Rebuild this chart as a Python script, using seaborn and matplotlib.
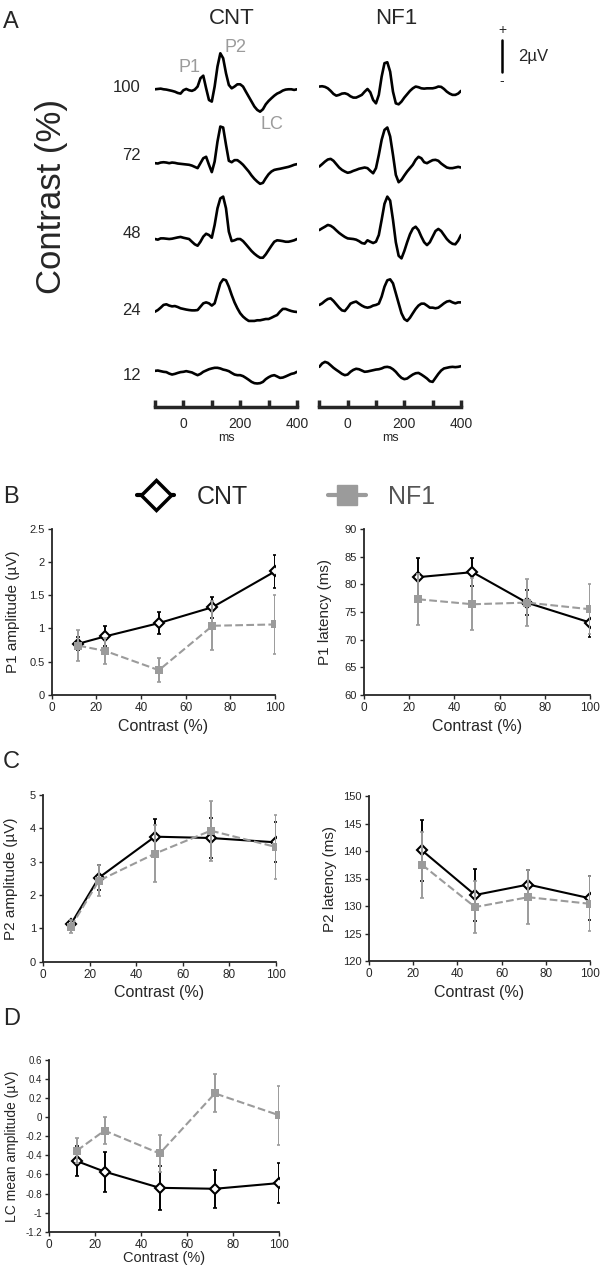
import numpy as np
import matplotlib
matplotlib.use("Agg")
import matplotlib.pyplot as plt
from matplotlib.lines import Line2D
from matplotlib.ticker import FuncFormatter
import seaborn as sns

sns.set_style("ticks")
plt.rcParams['font.family'] = ['Liberation Sans', 'DejaVu Sans']
plt.rcParams['axes.unicode_minus'] = False

# ---- panel A: grand average waveforms (uV), one sample every 10 ms
t_ms = np.arange(-100, 401, 10)
row_labels = ['100', '72', '48', '24', '12']

cnt_100 = [0.00, 0.02, 0.04, 0.00, -0.02, -0.06, -0.10, -0.15, -0.23, -0.27,
           -0.06, 0.02, -0.06, -0.10, -0.02, 0.17, 0.69, 0.85, 0.06, -0.67,
           -0.77, 0.17, 1.42, 2.25, 1.94, 1.00, 0.27, 0.06, 0.17, 0.31,
           0.31, 0.17, -0.15, -0.46, -0.77, -1.08, -1.29, -1.40, -1.25, -0.94,
           -0.73, -0.56, -0.40, -0.27, -0.19, -0.08, -0.02, 0.00, 0.00, -0.04,
           0.00]
cnt_72 = [0.00, -0.02, 0.04, 0.06, 0.04, 0.00, 0.04, 0.02, -0.02, -0.04,
          -0.06, -0.08, -0.10, -0.15, -0.23, -0.31, 0.00, 0.31, 0.40, -0.10,
          -0.56, 0.10, 1.35, 2.29, 2.23, 1.15, 0.15, 0.06, 0.19, 0.19,
          0.06, -0.10, -0.31, -0.52, -0.77, -0.98, -1.15, -1.29, -1.23, -0.94,
          -0.69, -0.52, -0.42, -0.38, -0.35, -0.31, -0.27, -0.23, -0.17, -0.10,
          -0.06]
cnt_48 = [0.00, -0.04, 0.04, 0.04, 0.02, 0.00, 0.02, 0.06, 0.10, 0.13,
          0.08, 0.04, 0.00, -0.17, -0.33, -0.42, -0.17, 0.15, 0.33, 0.25,
          0.08, 0.88, 1.92, 2.54, 2.65, 1.92, 0.46, -0.13, -0.08, 0.00,
          0.00, -0.13, -0.33, -0.54, -0.75, -0.92, -1.06, -1.17, -1.17, -0.96,
          -0.69, -0.42, -0.17, -0.08, -0.10, -0.13, -0.17, -0.17, -0.13, -0.08,
          0.00]
cnt_24 = [0.00, 0.10, 0.25, 0.42, 0.46, 0.38, 0.33, 0.35, 0.29, 0.21,
          0.17, 0.13, 0.10, 0.08, 0.08, 0.10, 0.31, 0.52, 0.58, 0.52,
          0.38, 0.52, 1.15, 1.77, 2.02, 1.96, 1.56, 1.04, 0.58, 0.21,
          -0.10, -0.31, -0.46, -0.58, -0.58, -0.58, -0.54, -0.54, -0.50, -0.46,
          -0.46, -0.38, -0.29, -0.21, 0.00, 0.17, 0.17, 0.10, 0.04, 0.00,
          -0.02]
cnt_12 = [0.00, 0.02, -0.02, -0.06, -0.08, -0.17, -0.23, -0.19, -0.13, -0.08,
          -0.06, -0.02, -0.06, -0.10, -0.19, -0.27, -0.19, -0.06, 0.02, 0.10,
          0.15, 0.19, 0.19, 0.15, 0.08, 0.04, -0.02, -0.13, -0.23, -0.27,
          -0.27, -0.33, -0.44, -0.56, -0.69, -0.77, -0.79, -0.77, -0.69, -0.52,
          -0.40, -0.31, -0.27, -0.35, -0.44, -0.42, -0.35, -0.27, -0.19, -0.15,
          -0.06]

nf1_100 = [0.17, 0.19, 0.15, 0.06, -0.10, -0.29, -0.40, -0.35, -0.27, -0.25,
           -0.31, -0.44, -0.52, -0.52, -0.44, -0.35, -0.15, 0.02, -0.19, -0.67,
           -0.88, -0.35, 0.79, 1.63, 1.69, 1.10, -0.15, -0.88, -0.94, -0.77,
           -0.52, -0.31, -0.10, 0.06, 0.17, 0.13, 0.06, 0.04, 0.06, 0.06,
           0.06, 0.10, 0.17, 0.15, 0.02, -0.15, -0.27, -0.35, -0.35, -0.27,
           -0.10]
nf1_72 = [-0.21, -0.06, 0.10, 0.23, 0.27, 0.15, -0.06, -0.27, -0.42, -0.52,
          -0.60, -0.56, -0.48, -0.42, -0.35, -0.31, -0.27, -0.31, -0.48, -0.63,
          -0.31, 0.52, 1.46, 2.08, 2.23, 1.67, 0.52, -0.73, -1.19, -1.04,
          -0.77, -0.52, -0.31, -0.10, 0.21, 0.40, 0.31, 0.06, 0.00, 0.10,
          0.19, 0.21, 0.15, -0.02, -0.15, -0.27, -0.31, -0.31, -0.27, -0.23,
          -0.27]
nf1_48 = [0.56, 0.67, 0.77, 0.88, 0.83, 0.71, 0.54, 0.38, 0.25, 0.13,
          0.04, 0.02, 0.00, -0.04, -0.13, -0.25, -0.29, -0.08, -0.17, -0.25,
          -0.17, 0.25, 1.20, 2.20, 2.65, 2.40, 1.20, -0.20, -1.05, -1.21,
          -0.75, -0.20, 0.30, 0.65, 0.77, 0.55, 0.15, -0.20, -0.38, -0.20,
          0.15, 0.50, 0.63, 0.50, 0.25, 0.00, -0.18, -0.30, -0.33, -0.10,
          0.25]
nf1_24 = [0.42, 0.52, 0.67, 0.79, 0.83, 0.67, 0.46, 0.25, 0.08, 0.04,
          0.25, 0.50, 0.58, 0.63, 0.50, 0.38, 0.29, 0.25, 0.29, 0.38,
          0.42, 0.50, 0.94, 1.56, 1.96, 2.02, 1.77, 1.15, 0.52, -0.10,
          -0.46, -0.58, -0.38, -0.10, 0.17, 0.38, 0.50, 0.50, 0.38, 0.25,
          0.25, 0.21, 0.25, 0.38, 0.52, 0.63, 0.67, 0.58, 0.52, 0.58,
          0.58]
nf1_12 = [0.25, 0.46, 0.56, 0.50, 0.35, 0.19, 0.06, -0.06, -0.19, -0.27,
          -0.23, -0.06, 0.06, 0.13, 0.10, 0.02, -0.06, -0.04, 0.00, 0.04,
          0.08, 0.10, 0.15, 0.23, 0.25, 0.21, 0.10, -0.06, -0.27, -0.44,
          -0.52, -0.48, -0.35, -0.23, -0.15, -0.13, -0.23, -0.35, -0.48, -0.65,
          -0.69, -0.44, -0.19, 0.02, 0.15, 0.19, 0.23, 0.25, 0.23, 0.25,
          0.29]

# ---- panels B-D: group means and SE
contrast = [12, 24, 48, 72, 100]
contrast_lat = [24, 48, 72, 100]

p1_amp_cnt = [0.77, 0.88, 1.08, 1.32, 1.86]
p1_amp_cnt_se = [0.10, 0.15, 0.17, 0.16, 0.25]
p1_amp_nf1 = [0.74, 0.66, 0.37, 1.04, 1.06]
p1_amp_nf1_se = [0.23, 0.19, 0.18, 0.37, 0.45]

p1_lat_cnt = [81.3, 82.2, 76.7, 73.1]
p1_lat_cnt_se = [3.4, 2.5, 2.3, 2.6]
p1_lat_nf1 = [77.3, 76.4, 76.7, 75.5]
p1_lat_nf1_se = [4.6, 4.7, 4.2, 4.5]

p2_amp_cnt = [1.13, 2.52, 3.75, 3.71, 3.58]
p2_amp_cnt_se = [0.10, 0.37, 0.53, 0.60, 0.60]
p2_amp_nf1 = [1.05, 2.43, 3.24, 3.93, 3.44]
p2_amp_nf1_se = [0.20, 0.47, 0.85, 0.90, 0.97]

p2_lat_cnt = [140.1, 132.0, 133.9, 131.4]
p2_lat_cnt_se = [5.6, 4.7, 2.7, 4.0]
p2_lat_nf1 = [137.5, 129.8, 131.6, 130.4]
p2_lat_nf1_se = [6.0, 4.7, 4.9, 5.0]

lc_amp_cnt = [-0.46, -0.57, -0.74, -0.75, -0.69]
lc_amp_cnt_se = [0.16, 0.21, 0.23, 0.20, 0.21]
lc_amp_nf1 = [-0.35, -0.14, -0.38, 0.25, 0.02]
lc_amp_nf1_se = [0.13, 0.14, 0.19, 0.20, 0.31]

GREY = '#9b9b9b'
W, H = 600, 1266
fig = plt.figure(figsize=(W / 100, H / 100), dpi=100)


def box(x0, y0, x1, y1):
    # pixel box (top-left origin) -> figure rect
    return [x0 / W, 1 - y1 / H, (x1 - x0) / W, (y1 - y0) / H]


def ftext(x, y, s, **kw):
    fig.text(x / W, 1 - y / H, s, **kw)


# ---------------- panel A
row_offset = [0, -4.62, -9.36, -13.9, -17.6]
for x0, x1, traces, title in [(155, 297, [cnt_100, cnt_72, cnt_48, cnt_24, cnt_12], 'CNT'),
                              (319.3, 461, [nf1_100, nf1_72, nf1_48, nf1_24, nf1_12], 'NF1')]:
    ax = fig.add_axes(box(x0, 40, x1, 407))
    ax.patch.set_alpha(0)
    for tr, off in zip(traces, row_offset):
        sns.lineplot(x=t_ms, y=np.asarray(tr) + off, ax=ax, color='black',
                     linewidth=1.9, estimator=None, sort=False)
    ax.set_xlim(-100, 400)
    ax.set_ylim(-19.86, 3.08)
    ax.set_xticks([0, 200, 400])
    ax.set_xticks([-100, 100, 300], minor=True)
    ax.tick_params(axis='x', which='both', direction='in', length=5, width=2.5,
                   labelsize=10, pad=7)
    ax.set_yticks([])
    for s in ['top', 'right', 'left']:
        ax.spines[s].set_visible(False)
    ax.spines['bottom'].set_linewidth(2.5)
    ax.set_xlabel('ms', fontsize=9, labelpad=1)
    ax.set_ylabel('')
    ftext((x0 + x1) / 2 + 6, 19, title, fontsize=16, ha='center', va='center')
    if title == 'CNT':
        ax.text(23, 1.33, 'P1', color=GREY, fontsize=13, ha='center', va='center')
        ax.text(185, 2.64, 'P2', color=GREY, fontsize=13, ha='center', va='center')
        ax.text(312, -2.23, 'LC', color=GREY, fontsize=13, ha='center', va='center')
    else:
        # 2 uV scale bar
        ax.plot([545, 545], [1.08, 3.08], color='black', lw=1.8, clip_on=False)

ftext(502, 30, '+', fontsize=10, ha='center', va='center')
ftext(502, 81, '-', fontsize=10, ha='center', va='center')
ftext(518, 57, '2µV', fontsize=12, ha='left', va='center')

for lab, y in zip(row_labels, [87, 156, 233, 310, 375]):
    ftext(141, y, lab, fontsize=12, ha='right', va='center')
ftext(52, 196, 'Contrast (%)', fontsize=25, rotation=90, ha='center', va='center')

for letter, y in zip('ABCD', [22, 497, 762, 1019]):
    ftext(3, y, letter, fontsize=17, ha='left', va='center')


# ---------------- panels B-D
def fmt(v, pos):
    return f"{round(v, 2) + 0:g}"


def trend_panel(rect, x, cnt, cnt_se, nf1, nf1_se, ylim, step, ylabel,
                ylab_px, xlab_px, tick_fs=8, ylab_fs=11, xlab_fs=11.5):
    ax = fig.add_axes(box(*rect))
    ax.errorbar(x, cnt, yerr=cnt_se, fmt='none', ecolor='black', elinewidth=1.4,
                capsize=1.5, capthick=1.2, zorder=2)
    sns.lineplot(x=x, y=cnt, ax=ax, color='black', linewidth=1.5, marker='D',
                 markersize=5, markerfacecolor='white', markeredgecolor='black',
                 markeredgewidth=1.5, zorder=3)
    ax.errorbar(x, nf1, yerr=nf1_se, fmt='none', ecolor=GREY, elinewidth=1.4,
                capsize=1.5, capthick=1.2, zorder=4)
    sns.lineplot(x=x, y=nf1, ax=ax, color=GREY, linewidth=1.5, linestyle='--',
                 marker='s', markersize=6, markeredgewidth=0, zorder=5)
    ax.set_xlim(0, 100)
    ax.set_ylim(*ylim)
    ax.set_xticks(np.arange(0, 101, 20))
    ax.set_yticks(np.arange(ylim[0], ylim[1] + step / 2, step))
    ax.yaxis.set_major_formatter(FuncFormatter(fmt))
    ax.tick_params(direction='out', length=3, width=1, labelsize=tick_fs, pad=2)
    ax.tick_params(axis='x', labelsize=8.5)
    sns.despine(ax=ax)
    ax.spines['left'].set_linewidth(1.3)
    ax.spines['bottom'].set_linewidth(1.3)
    ax.set_xlabel('Contrast (%)', fontsize=xlab_fs, va='center')
    ax.set_ylabel(ylabel, fontsize=ylab_fs, va='center', ha='center')
    x0, y0, x1, y1 = rect
    ax.yaxis.set_label_coords((ylab_px - x0) / (x1 - x0), 0.5)
    ax.xaxis.set_label_coords(0.5, -(xlab_px - y1) / (y1 - y0))
    return ax


trend_panel((51.7, 529, 275, 694.7), contrast, p1_amp_cnt, p1_amp_cnt_se,
            p1_amp_nf1, p1_amp_nf1_se, (0, 2.5), 0.5, 'P1 amplitude (µV)', 13, 726)
trend_panel((364, 529, 590, 695), contrast_lat, p1_lat_cnt, p1_lat_cnt_se,
            p1_lat_nf1, p1_lat_nf1_se, (60, 90), 5, 'P1 latency (ms)', 325, 726)
trend_panel((43, 795, 276, 961.7), contrast, p2_amp_cnt, p2_amp_cnt_se,
            p2_amp_nf1, p2_amp_nf1_se, (0, 5), 1, 'P2 amplitude (µV)', 11, 992)
trend_panel((369, 796, 590, 961), contrast_lat, p2_lat_cnt, p2_lat_cnt_se,
            p2_lat_nf1, p2_lat_nf1_se, (120, 150), 5, 'P2 latency (ms)', 330, 992)
trend_panel((49.3, 1060, 279.3, 1231.7), contrast, lc_amp_cnt, lc_amp_cnt_se,
            lc_amp_nf1, lc_amp_nf1_se, (-1.2, 0.6), 0.2, 'LC mean amplitude (µV)', 12, 1258,
            tick_fs=7, ylab_fs=10, xlab_fs=10.5)

# legend
cnt_h = Line2D([], [], color='black', lw=3, marker='D', markersize=15,
               markerfacecolor='white', markeredgecolor='black', markeredgewidth=2.5)
nf1_h = Line2D([], [], color=GREY, lw=3, marker='s', markersize=14,
               markerfacecolor=GREY, markeredgecolor=GREY)
leg = fig.legend([cnt_h, nf1_h], ['CNT', 'NF1'], loc='center',
                 bbox_to_anchor=(286 / W, 1 - 497 / H), ncol=2, frameon=False,
                 fontsize=18, handlelength=1.5, handletextpad=0.9, columnspacing=3.2)
leg.get_texts()[1].set_color('#555555')

fig.savefig('out.png', dpi=100)
